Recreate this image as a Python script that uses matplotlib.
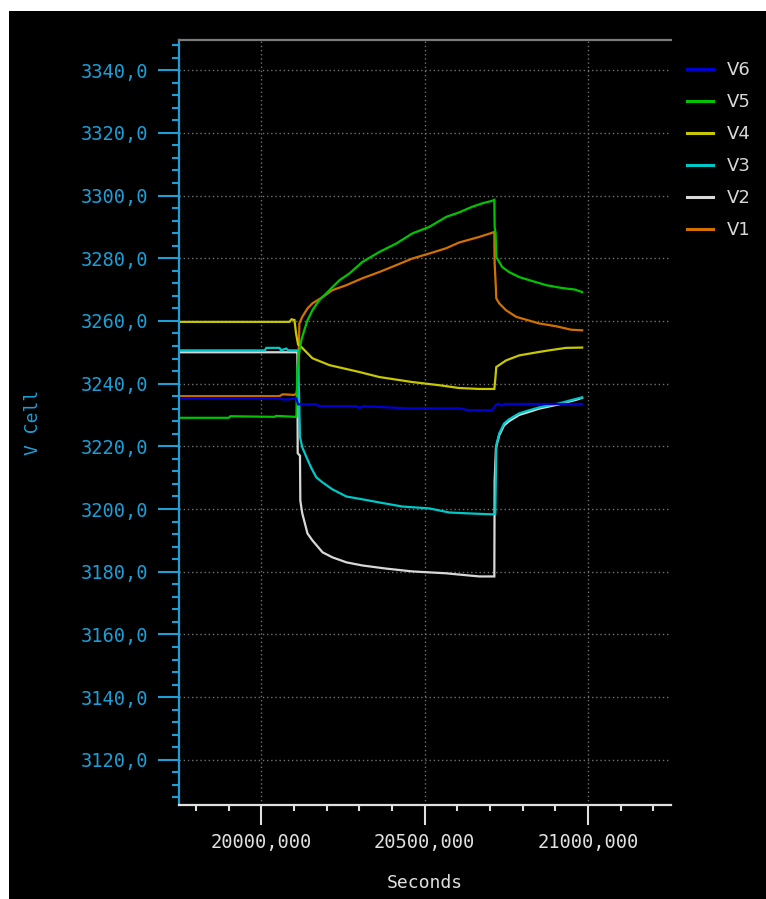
import matplotlib
matplotlib.use("Agg")
import matplotlib.pyplot as plt
from matplotlib.patches import Rectangle
from matplotlib.ticker import MultipleLocator, FuncFormatter

# Cell voltage traces (time in seconds, voltage in mV)
t_v1 = [19743, 20055, 20065, 20100, 20107, 20112, 20116, 20125, 20141, 20156, 20187,
        20217, 20260, 20309, 20361, 20413, 20462, 20514, 20566, 20605, 20667, 20706,
        20713, 20714, 20718, 20719, 20728, 20749, 20780, 20810, 20850, 20902, 20948, 20982]
v1 = [3236.0, 3236.0, 3236.6, 3236.4, 3236.8, 3240.0, 3259.2, 3261.3, 3264.0, 3265.6, 3267.6,
      3269.8, 3271.4, 3273.6, 3275.6, 3277.8, 3279.9, 3281.5, 3283.2, 3285.0, 3286.8, 3288.1,
      3288.4, 3278.4, 3270.0, 3267.2, 3265.6, 3263.4, 3261.3, 3260.4, 3259.2, 3258.3, 3257.2, 3257.0]

t_v2 = [19743, 20108, 20110, 20111, 20118, 20119, 20125, 20141, 20156, 20187, 20217, 20260,
        20309, 20382, 20462, 20566, 20605, 20667, 20713, 20714, 20718, 20728, 20743, 20758,
        20789, 20820, 20850, 20911, 20969, 20982]
v2 = [3250.0, 3250.0, 3250.0, 3217.8, 3217.0, 3202.7, 3198.6, 3192.2, 3190.0, 3186.2, 3184.6, 3183.0,
      3182.0, 3181.0, 3180.1, 3179.5, 3179.1, 3178.5, 3178.5, 3209.0, 3219.5, 3223.5, 3226.7, 3228.0,
      3230.0, 3231.0, 3232.0, 3233.4, 3235.0, 3235.5]

t_v3 = [19743, 20010, 20015, 20055, 20060, 20076, 20082, 20112, 20118, 20125, 20138, 20153,
        20168, 20187, 20217, 20260, 20309, 20361, 20431, 20514, 20575, 20636, 20706, 20716,
        20719, 20728, 20743, 20758, 20789, 20820, 20850, 20911, 20969, 20982]
v3 = [3250.6, 3250.6, 3251.4, 3251.4, 3250.6, 3251.2, 3250.6, 3250.6, 3222.9, 3219.7, 3216.5, 3213.0,
      3210.1, 3208.5, 3206.3, 3204.0, 3203.1, 3202.1, 3200.8, 3200.2, 3198.9, 3198.6, 3198.3, 3198.5,
      3220.3, 3224.1, 3227.3, 3228.6, 3230.5, 3231.5, 3232.4, 3233.7, 3235.3, 3235.6]

t_v4 = [19743, 20086, 20092, 20101, 20106, 20112, 20122, 20156, 20208, 20300, 20361, 20462,
        20544, 20605, 20667, 20713, 20716, 20719, 20749, 20789, 20850, 20880, 20932, 20982]
v4 = [3259.7, 3259.7, 3260.5, 3260.3, 3256.0, 3252.5, 3251.7, 3248.1, 3245.9, 3243.7, 3242.1, 3240.5,
      3239.5, 3238.6, 3238.3, 3238.3, 3241.4, 3245.3, 3247.4, 3249.0, 3250.1, 3250.6, 3251.4, 3251.5]

t_v5 = [19743, 19900, 19905, 20040, 20045, 20107, 20110, 20116, 20122, 20131, 20141, 20156,
        20177, 20208, 20239, 20269, 20309, 20361, 20413, 20462, 20514, 20566, 20605, 20645,
        20676, 20706, 20713, 20714, 20717, 20719, 20737, 20758, 20789, 20820, 20872, 20920,
        20960, 20982]
v5 = [3229.1, 3229.1, 3229.6, 3229.4, 3229.7, 3229.4, 3245.0, 3250.0, 3253.8, 3257.0, 3260.2, 3263.4,
      3266.6, 3269.8, 3273.0, 3275.1, 3278.8, 3282.0, 3284.7, 3287.9, 3290.0, 3293.2, 3294.6, 3296.4,
      3297.5, 3298.3, 3298.6, 3290.0, 3288.0, 3280.4, 3277.2, 3275.6, 3274.0, 3273.0, 3271.4, 3270.5,
      3270.0, 3269.2]

t_v6 = [19743, 20055, 20065, 20085, 20107, 20112, 20168, 20177, 20291, 20300, 20310, 20453,
        20605, 20636, 20706, 20716, 20725, 20735, 20745, 20982]
v6 = [3235.4, 3235.4, 3234.9, 3235.0, 3235.3, 3233.4, 3233.4, 3232.8, 3232.8, 3232.2, 3232.8, 3232.1,
      3232.1, 3231.5, 3231.5, 3233.0, 3233.6, 3233.0, 3233.5, 3233.5]

series_names = ["V1", "V2", "V3", "V4", "V5", "V6"]
series_colors = ["#d27000", "#d8d8d8", "#00c8c8", "#c8c800", "#00c400", "#0000d0"]

AXIS_CYAN = "#1c9fd6"
LIGHT = "#e0e0e0"
MONO = "DejaVu Sans Mono"

W, H = 766, 899
fig = plt.figure(figsize=(W / 100, H / 100), dpi=100, facecolor="white")
fig.patches.append(Rectangle((9 / W, 0), (W - 9) / W, (H - 11) / H,
                             transform=fig.transFigure, facecolor="black",
                             edgecolor="none", zorder=-10))

left, right, top, bottom = 178.5, 671, 40, 805
ax = fig.add_axes([left / W, (H - bottom) / H, (right - left) / W, (bottom - top) / H])
ax.set_facecolor("black")

traces = [(t_v1, v1), (t_v2, v2), (t_v3, v3), (t_v4, v4), (t_v5, v5), (t_v6, v6)]
handles = []
for (t, v), name, col in zip(traces, series_names, series_colors):
    ln, = ax.plot(t, v, color=col, lw=1.6, label=name, solid_joinstyle="miter")
    handles.append(ln)

ax.set_xlim(19746, 21254)
ax.set_ylim(3105.6, 3349.6)

ax.xaxis.set_major_locator(MultipleLocator(500))
ax.xaxis.set_minor_locator(MultipleLocator(100))
ax.yaxis.set_major_locator(MultipleLocator(20))
ax.yaxis.set_minor_locator(MultipleLocator(4))
ax.xaxis.set_major_formatter(FuncFormatter(lambda v, p: f"{v:.3f}".replace(".", ",")))
ax.yaxis.set_major_formatter(FuncFormatter(lambda v, p: f"{v:.1f}".replace(".", ",")))

ax.grid(True, which="major", color="#707070", lw=1.0, linestyle=(0, (1, 2)))

ax.spines["right"].set_visible(False)
ax.spines["left"].set_color(AXIS_CYAN)
ax.spines["left"].set_linewidth(1.6)
ax.spines["top"].set_color("#7a7a7a")
ax.spines["top"].set_linewidth(1.6)
ax.spines["bottom"].set_color(LIGHT)
ax.spines["bottom"].set_linewidth(1.6)

ax.tick_params(axis="y", which="major", direction="out", length=15, width=1.5,
               color=AXIS_CYAN, labelcolor=AXIS_CYAN, pad=7, labelsize=13.5)
ax.tick_params(axis="y", which="minor", direction="out", length=5, width=1.5, color=AXIS_CYAN)
ax.tick_params(axis="x", which="major", direction="out", length=14.5, width=1.5,
               color=LIGHT, labelcolor=LIGHT, pad=6, labelsize=13.5)
ax.tick_params(axis="x", which="minor", direction="out", length=4.5, width=1.5, color=LIGHT)
for lab in ax.get_xticklabels() + ax.get_yticklabels():
    lab.set_family(MONO)

ax.set_ylabel("V Cell", color=AXIS_CYAN, fontsize=13, family=MONO)
ax.yaxis.set_label_coords((42 - left) / (right - left), 0.5)
ax.set_xlabel("Seconds", color=LIGHT, fontsize=13, family=MONO)
ax.xaxis.set_label_coords(0.5, (bottom - 874) / (bottom - top))

leg = fig.legend(handles[::-1], series_names[::-1], loc="upper left",
                 bbox_to_anchor=(687 / W, (H - 61) / H), frameon=False,
                 fontsize=13, handlelength=1.44, handletextpad=0.77,
                 labelspacing=0.78, borderpad=0, borderaxespad=0)
for txt in leg.get_texts():
    txt.set_color("#d8d8d8")
for lh in leg.get_lines():
    lh.set_linewidth(2.2)

fig.savefig("out.png", dpi=100, facecolor="white")
